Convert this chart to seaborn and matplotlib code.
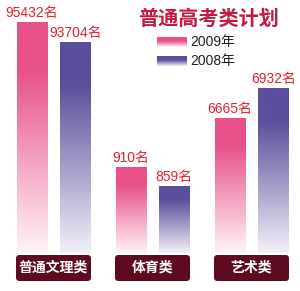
import numpy as np
import pandas as pd
import matplotlib
matplotlib.use("Agg")
import matplotlib.pyplot as plt
import seaborn as sns
from matplotlib.patches import FancyBboxPatch
from matplotlib.colors import LinearSegmentedColormap

categories = ["普通文理类", "体育类", "艺术类"]
years = ["2009年", "2008年"]
values_2009 = [95432, 910, 6665]
values_2008 = [93704, 859, 6932]
title = "普通高考类计划"

# broken (infographic) axis: value breakpoints -> relative display height
break_vals = [0, 859, 910, 6665, 6932, 93704, 95432, 120000]
break_disp = [0, 67, 86, 135, 165, 211, 231, 253]

df = pd.DataFrame({
    "cat": categories * 2,
    "year": [years[0]] * 3 + [years[1]] * 3,
    "val": values_2009 + values_2008,
})

top_colors = {years[0]: "#E8508A", years[1]: "#5A4F9C"}
bot_colors = {years[0]: "#FFF4F8", years[1]: "#F1F0F8"}

sns.set_theme(style="white")
plt.rcParams["font.family"] = ["Liberation Sans", "Noto Sans CJK SC", "DejaVu Sans"]

W, H = 300, 291
fig = plt.figure(figsize=(W / 100, H / 100), dpi=100)
ax = fig.add_axes([0, 38 / H, 1, 253 / H])

fwd = lambda v: np.interp(v, break_vals, break_disp)
inv = lambda d: np.interp(d, break_disp, break_vals)
ax.set_yscale("function", functions=(fwd, inv))

sns.barplot(data=df, x="cat", y="val", hue="year", hue_order=years,
            order=categories, width=0.88, gap=0.31, palette=top_colors,
            ax=ax, legend=False, linewidth=0, saturation=1)
ax.set_xlim(-53.5 / 99, (300 - 53.5) / 99)
ax.set_ylim(0, 120000)
ax.axis("off")

fig.canvas.draw()
to_axes = ax.transData + ax.transAxes.inverted()
grad = np.linspace(0, 1, 256).reshape(-1, 1)
n = len(categories)
for i, patch in enumerate(ax.patches[: 2 * n]):
    yr = years[i // n]
    x0 = patch.get_x()
    x1 = x0 + patch.get_width()
    h = patch.get_height()
    (ax0, ay0), (ax1, ay1) = to_axes.transform([(x0, 0), (x1, h)])
    cmap = LinearSegmentedColormap.from_list(
        "g", [(0, bot_colors[yr]), (0.8, top_colors[yr]), (1, top_colors[yr])])
    im = ax.imshow(grad, aspect="auto", cmap=cmap, origin="lower",
                   extent=(ax0, ax1, ay0, ay1), transform=ax.transAxes,
                   zorder=3)
    im.set_clip_path(patch)
    vals = values_2009 if i // n == 0 else values_2008
    ax.annotate(f"{vals[i % n]}名", ((x0 + x1) / 2, h), xytext=(0, 1.5),
                textcoords="offset points", ha="center", va="bottom",
                color="#E3202C", fontsize=10, zorder=5)

ax.set_xlim(-53.5 / 99, (300 - 53.5) / 99)
ax.set_ylim(0, 120000)

# category label boxes
to_fig = ax.transData + fig.transFigure.inverted()
for k, c in enumerate(categories):
    cx = to_fig.transform((k, 0))[0]
    bw = 75 / W
    box = FancyBboxPatch((cx - bw / 2, 10 / H), bw, 26 / H,
                         boxstyle="round,pad=0,rounding_size=0.012",
                         transform=fig.transFigure, facecolor="#5E0B22",
                         edgecolor="none", zorder=5)
    fig.patches.append(box)
    fig.text(cx, 23 / H, c, ha="center", va="center", color="white",
             fontsize=10, fontweight="bold", family=["Noto Sans CJK SC"],
             zorder=10)

# title
fig.text(209 / W, 1 - 18 / H, title, ha="center", va="center",
         color="#C41A3C", fontsize=14.5, fontweight="heavy",
         family=["Noto Sans CJK SC"])

# legend
for j, yr in enumerate(years):
    yc = 42 + j * 19
    lg = np.linspace(0, 1, 64).reshape(-1, 1)
    cmap = LinearSegmentedColormap.from_list(
        "lg", [(0, bot_colors[yr]), (0.55, top_colors[yr]), (1, top_colors[yr])])
    lax = fig.add_axes([157 / W, 1 - (yc + 5.5) / H, 30 / W, 11 / H])
    lax.imshow(lg, aspect="auto", cmap=cmap, origin="lower")
    lax.axis("off")
    fig.text(190 / W, 1 - yc / H, yr, ha="left", va="center",
             color="#231F20", fontsize=10)

fig.savefig("out.png", dpi=100)
